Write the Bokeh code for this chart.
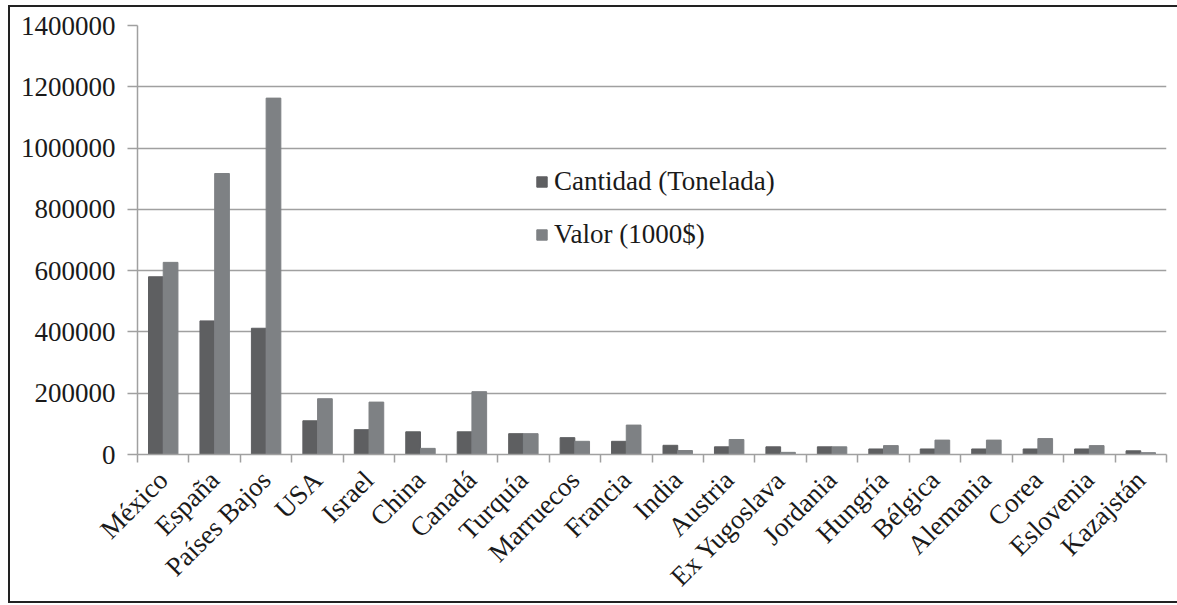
import numpy as np
from bokeh.plotting import figure
from bokeh.models import FixedTicker, Range1d, BasicTickFormatter
from bokeh.embed import file_html
from bokeh.resources import INLINE

countries = ["México", "España", "Países Bajos", "USA", "Israel", "China", "Canadá",
             "Turquía", "Marruecos", "Francia", "India", "Austria", "Ex Yugoslava",
             "Jordania", "Hungría", "Bélgica", "Alemania", "Corea", "Eslovenia", "Kazajstán"]
cantidad = [580000, 436000, 412000, 110000, 81000, 74000, 74000, 68000, 55000, 43000,
            30000, 25000, 25000, 25000, 18000, 18000, 18000, 18000, 18000, 12000]
valor = [627000, 917000, 1163000, 182000, 171000, 20000, 205000, 68000, 43000, 96000,
         13000, 49000, 7000, 25000, 29000, 47000, 47000, 52000, 29000, 6000]
y_ticks = [0, 200000, 400000, 600000, 800000, 1000000, 1200000, 1400000]

n = len(countries)
idx = np.arange(n)
centers = idx + 0.5
bw = 0.286

FONT = "Liberation Serif"
TXT = "#1a1a1a"
GRID = "#a0a0a0"

W, H = 1177, 605
p = figure(width=W, height=H, output_backend="svg", toolbar_location=None,
           x_range=Range1d(0, n), y_range=Range1d(0, 1400000),
           min_border_left=137, min_border_right=11, min_border_top=25, min_border_bottom=150)
p.outline_line_color = None
p.border_fill_alpha = 0
p.background_fill_alpha = 0
# outer frame lines (left, top, bottom) drawn as CSS background behind the transparent canvas
p.styles = {
    "background-image": "linear-gradient(#222,#222), linear-gradient(#222,#222), linear-gradient(#222,#222)",
    "background-size": "2px 598px, 1169px 2px, 1169px 2px",
    "background-position": "8px 5px, 8px 5px, 8px 601px",
    "background-repeat": "no-repeat",
}

p.vbar(x=centers - bw / 2, top=cantidad, width=bw, color="#5e5f61",
       legend_label="Cantidad (Tonelada)")
p.vbar(x=centers + bw / 2, top=valor, width=bw, color="#7e8184",
       legend_label="Valor (1000$)")

# y axis
p.yaxis.ticker = FixedTicker(ticks=y_ticks)
p.yaxis.formatter = BasicTickFormatter(use_scientific=False)
p.yaxis.axis_line_color = GRID
p.yaxis.axis_line_width = 1.5
p.yaxis.major_tick_line_color = GRID
p.yaxis.major_tick_line_width = 1.5
p.yaxis.major_tick_out = 10
p.yaxis.major_tick_in = 0
p.yaxis.minor_tick_line_color = None
p.yaxis.major_label_standoff = 12
p.yaxis.major_label_text_font = FONT
p.yaxis.major_label_text_font_size = "27px"
p.yaxis.major_label_text_color = TXT

# x axis
p.xaxis.ticker = FixedTicker(ticks=list(centers), minor_ticks=list(range(n + 1)))
p.xaxis.major_label_overrides = {float(c): name for c, name in zip(centers, countries)}
p.xaxis.major_tick_line_color = None
p.xaxis.minor_tick_line_color = GRID
p.xaxis.minor_tick_line_width = 1.5
p.xaxis.minor_tick_out = 8
p.xaxis.minor_tick_in = 0
p.xaxis.axis_line_color = GRID
p.xaxis.axis_line_width = 1.5
p.xaxis.major_label_orientation = np.pi / 4
p.xaxis.major_label_standoff = 13
p.xaxis.major_label_text_font = FONT
p.xaxis.major_label_text_font_size = "27px"
p.xaxis.major_label_text_color = TXT

# grid
p.xgrid.grid_line_color = None
p.ygrid.ticker = FixedTicker(ticks=y_ticks)
p.ygrid.grid_line_color = GRID
p.ygrid.grid_line_width = 1.5

# legend
lg = p.legend[0]
lg.location = (398, 204)
lg.background_fill_alpha = 0
lg.border_line_color = None
lg.padding = 0
lg.margin = 0
lg.spacing = 22
lg.glyph_width = 13
lg.glyph_height = 13
lg.label_standoff = 6
lg.label_text_font = FONT
lg.label_text_font_size = "27px"
lg.label_text_color = TXT

open("out.html", "w").write(file_html(p, INLINE))
